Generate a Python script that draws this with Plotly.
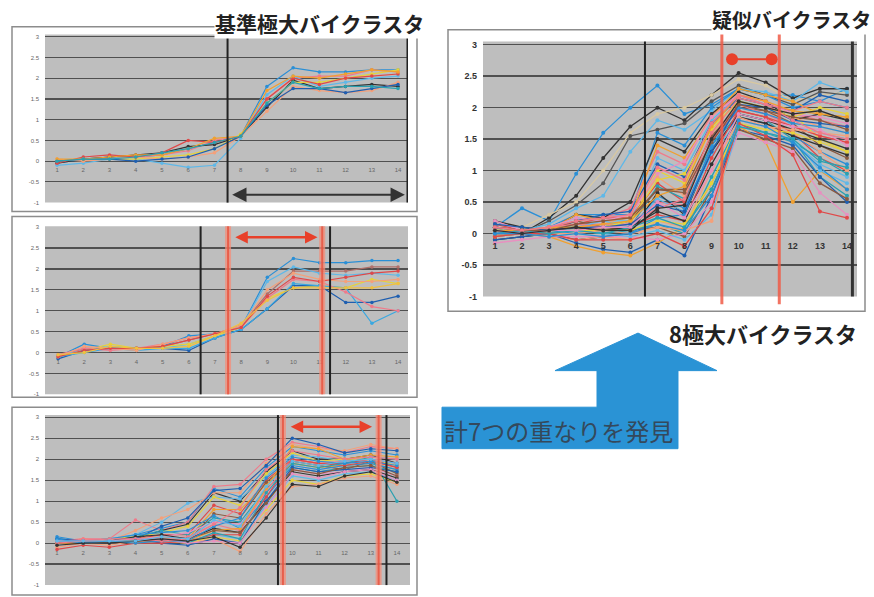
import plotly.graph_objects as go

W, H = 874, 597

X = list(range(1, 15))
XLAB = [str(i) for i in X]
YTICKS = [-1, -0.5, 0, 0.5, 1, 1.5, 2, 2.5, 3]
YLAB = ["-1", "-0.5", "0", "0.5", "1", "1.5", "2", "2.5", "3"]

TITLE_1 = "基準極大バイクラスタ"
TITLE_4 = "疑似バイクラスタ"
TITLE_8 = "8極大バイクラスタ"
ARROW_TEXT = "計7つの重なりを発見"

PALETTE = ["#2a8fd6", "#f07a8a", "#333333", "#5fb8e8", "#e6d23c", "#f4a07a",
           "#1f5fb0", "#e04848", "#f0a030", "#2aa0b0", "#8a5a40", "#e890c0"]

# Panel 1: reference maximal bicluster
P1 = [
    [-0.05, 0.05, 0.1, 0.1, 0.15, 0.3, 0.45, 0.6, 1.8, 2.25, 2.15, 2.15, 2.2, 2.2],
    [0, 0.05, 0.05, 0.1, 0.15, 0.25, 0.5, 0.6, 1.5, 2.0, 2.05, 2.05, 2.2, 2.15],
    [-0.05, 0.05, 0.1, 0.15, 0.2, 0.35, 0.4, 0.6, 1.3, 1.95, 1.75, 1.8, 1.85, 1.8],
    [-0.1, -0.05, 0.05, 0.05, -0.05, -0.15, -0.1, 0.55, 1.6, 2.05, 1.8, 1.9, 2.0, 2.05],
    [0, 0.05, 0.05, 0.05, 0.1, 0.15, 0.3, 0.65, 1.4, 1.9, 1.9, 2.0, 2.1, 2.2],
    [0.05, 0.0, 0.05, 0.1, 0.05, 0.1, 0.2, 0.6, 1.2, 1.8, 1.7, 1.65, 1.7, 1.9],
    [0, 0.05, 0.05, 0.0, 0.05, 0.1, 0.3, 0.6, 1.35, 1.75, 1.75, 1.65, 1.75, 1.85],
    [-0.05, 0.1, 0.15, 0.1, 0.2, 0.5, 0.45, 0.6, 1.5, 2.0, 1.85, 2.0, 2.05, 2.1],
    [0.05, 0.05, 0.1, 0.15, 0.15, 0.3, 0.55, 0.6, 1.7, 2.05, 2.0, 2.1, 2.2, 2.15],
    [0, 0.05, 0.05, 0.1, 0.2, 0.3, 0.45, 0.6, 1.4, 1.9, 1.75, 1.8, 1.8, 1.75],
]

# Panel 2
P2 = [
    [-0.1, 0.2, 0.1, 0.1, 0.15, 0.4, 0.45, 0.6, 1.8, 2.25, 2.15, 2.15, 2.2, 2.2],
    [-0.1, 0.1, 0.1, 0.1, 0.15, 0.3, 0.45, 0.65, 1.4, 1.95, 1.95, 1.95, 2.05, 2.05],
    [-0.05, 0.05, 0.15, 0.1, 0.1, 0.2, 0.4, 0.6, 1.7, 2.05, 1.9, 1.85, 1.9, 1.85],
    [-0.1, 0.05, 0.2, 0.1, 0.15, 0.2, 0.4, 0.6, 1.3, 1.55, 1.6, 1.55, 1.75, 1.65],
    [-0.15, 0.05, 0.1, 0.1, 0.1, 0.05, 0.35, 0.55, 1.05, 1.6, 1.6, 1.2, 1.2, 1.35],
    [-0.1, 0.0, 0.1, 0.05, 0.1, 0.1, 0.35, 0.55, 1.05, 1.65, 1.6, 1.55, 0.7, 1.0],
    [-0.05, 0.1, 0.05, 0.1, 0.2, 0.35, 0.45, 0.6, 1.3, 1.75, 1.7, 1.45, 1.1, 1.0],
    [-0.1, 0.15, 0.1, 0.05, 0.2, 0.35, 0.45, 0.65, 1.5, 1.9, 1.75, 1.7, 1.7, 1.75],
    [-0.1, 0.05, 0.1, 0.1, 0.15, 0.3, 0.45, 0.6, 1.35, 1.8, 1.7, 1.8, 1.9, 1.95],
    [-0.05, 0.0, 0.15, 0.1, 0.1, 0.15, 0.4, 0.7, 1.25, 1.55, 1.55, 1.55, 1.55, 1.65],
]
P2_COLORS = ["#2a8fd6", "#b0706a", "#5fb8e8", "#e6d23c", "#1f5fb0", "#3aa8e0",
             "#f07a8a", "#f4a07a", "#e04848", "#f0c040"]

# Panel 3
P3 = [
    [0.1, 0.05, 0.05, 0.2, 0.35, 0.5, 1.3, 1.1, 1.8, 2.3, 2.2, 2.1, 2.2, 2.1],
    [0.0, 0.1, 0.1, 0.55, 0.3, 0.5, 1.35, 1.4, 2.0, 2.4, 2.3, 2.15, 2.3, 2.25],
    [0.05, 0.0, 0.05, 0.1, 0.3, 0.45, 1.2, 1.0, 1.7, 2.2, 2.0, 2.0, 2.1, 1.9],
    [0.1, 0.05, 0.1, 0.2, 0.5, 0.95, 1.1, 1.05, 1.6, 2.1, 2.05, 1.95, 2.05, 2.0],
    [0.0, 0.05, 0.1, 0.15, 0.25, 0.4, 1.1, 0.9, 1.65, 2.15, 1.95, 2.0, 2.0, 1.85],
    [0.05, 0.1, 0.05, 0.3, 0.6, 0.8, 1.2, 1.2, 1.9, 2.35, 2.25, 2.2, 2.35, 2.25],
    [0.0, 0.05, 0.05, 0.1, 0.4, 0.6, 1.25, 1.3, 1.85, 2.5, 2.35, 2.15, 2.25, 2.2],
    [0.05, 0.0, 0.05, 0.1, 0.2, 0.2, 0.9, 0.7, 1.5, 2.0, 1.9, 1.9, 2.0, 1.8],
    [0.0, 0.05, 0.0, 0.1, 0.15, 0.1, 0.8, 0.8, 1.4, 1.9, 1.8, 1.85, 1.9, 1.75],
    [0.1, 0.05, 0.05, 0.15, 0.3, 0.2, 0.6, 0.5, 1.3, 1.8, 1.7, 1.8, 1.85, 1.7],
    [0.05, 0.05, 0.0, 0.05, 0.1, 0.05, 0.7, 0.6, 1.45, 1.95, 1.85, 1.75, 1.95, 1.65],
    [0.0, 0.0, 0.05, 0.1, 0.15, 0.25, 0.5, 0.45, 1.2, 1.75, 1.65, 1.7, 1.8, 1.6],
    [0.15, 0.05, 0.1, 0.2, 0.25, 0.3, 0.65, 0.35, 1.1, 1.85, 1.75, 1.85, 1.9, 1.75],
    [0.05, 0.1, 0.05, 0.05, 0.1, 0.15, 0.45, 0.3, 1.25, 2.0, 1.9, 1.95, 2.0, 1.9],
    [0.0, 0.0, 0.05, 0.15, 0.2, 0.1, 0.35, 0.25, 1.0, 1.7, 1.6, 1.7, 1.75, 1.55],
    [0.05, 0.0, 0.0, 0.05, 0.1, 0.05, 0.2, 0.1, 0.9, 1.6, 1.5, 1.65, 1.7, 1.5],
    [0.0, 0.05, 0.05, 0.0, 0.05, 0.0, 0.15, 0.05, 0.8, 1.5, 1.4, 1.6, 1.65, 1.45],
    [-0.1, 0.0, -0.05, 0.05, 0.05, 0.0, 0.1, -0.2, 0.7, 1.35, 1.4, 1.55, 1.6, 1.4],
    [0.1, 0.05, 0.0, 0.1, 0.0, -0.05, 0.1, 0.0, 1.0, 1.8, 1.7, 1.75, 1.8, 1.7],
    [-0.15, -0.05, -0.1, 0.0, 0.0, 0.05, 0.2, 0.2, 1.1, 2.0, 1.9, 1.85, 1.95, 1.8],
    [0.0, 0.0, 0.05, 0.05, 0.1, 0.05, 0.3, 0.35, 1.3, 2.3, 2.25, 2.0, 2.1, 2.05],
    [0.05, 0.0, 0.05, 0.1, 0.1, 0.0, 0.25, 0.1, 1.2, 1.9, 1.8, 1.9, 2.05, 1.0],
    [0.0, 0.05, 0.0, 0.05, 0.05, 0.1, 0.3, 0.25, 0.95, 1.75, 1.65, 1.8, 1.85, 1.6],
    [0.05, 0.05, 0.05, 0.1, 0.1, 0.0, 0.05, 0.0, 0.85, 1.65, 1.55, 1.7, 1.75, 1.5],
    [0.1, 0.0, 0.05, 0.0, 0.05, 0.05, 0.4, 0.6, 1.55, 2.05, 1.95, 1.9, 1.95, 1.85],
    [0.0, 0.05, 0.1, 0.1, 0.05, 0.1, 0.45, 0.85, 1.75, 2.2, 2.1, 2.0, 2.05, 2.0],
    [-0.05, 0.0, 0.0, 0.05, 0.1, 0.05, 0.15, -0.1, 0.6, 1.4, 1.35, 1.6, 1.7, 1.45],
    [0.05, 0.05, 0.05, 0.05, 0.15, 0.1, 0.55, 0.4, 1.35, 1.95, 1.85, 1.95, 2.0, 1.9],
]

# Panel 4: pseudo bicluster
P4 = [
    [0.1, 0.4, 0.2, 0.95, 1.6, 2.0, 2.35, 1.9, 2.05, 2.3, 2.2, 2.2, 2.1, 2.3],
    [0.1, 0.0, 0.25, 0.6, 1.2, 1.7, 2.0, 1.8, 2.2, 2.55, 2.4, 2.15, 2.3, 2.3],
    [0.2, 0.1, 0.3, 0.5, 1.0, 1.6, 1.9, 2.0, 2.2, 2.45, 2.35, 2.1, 2.2, 2.25],
    [0.05, 0.0, 0.2, 0.45, 0.8, 1.55, 1.65, 1.75, 2.1, 2.35, 2.2, 2.05, 2.25, 2.2],
    [0.0, 0.05, 0.15, 0.4, 0.6, 1.3, 1.8, 1.65, 1.95, 2.3, 2.25, 2.1, 2.4, 2.25],
    [0.05, 0.0, 0.1, 0.3, 0.3, 0.3, 1.6, 1.4, 2.0, 2.3, 2.2, 2.0, 2.1, 2.0],
    [0.1, 0.05, 0.1, 0.2, 0.25, 0.4, 1.3, 1.1, 1.9, 2.2, 2.1, 1.9, 1.8, 1.7],
    [0.2, 0.1, 0.05, 0.3, 0.25, 0.5, 1.5, 1.3, 1.9, 2.25, 2.1, 1.8, 1.9, 1.8],
    [0.0, 0.05, 0.1, 0.25, 0.2, 0.2, 1.2, 1.0, 1.8, 2.2, 2.05, 1.7, 1.6, 1.5],
    [0.05, 0.0, 0.05, 0.15, 0.1, 0.15, 1.0, 0.8, 1.7, 2.1, 2.0, 1.9, 1.5, 1.3],
    [0.1, 0.05, 0.0, 0.1, 0.15, 0.3, 0.9, 0.6, 1.6, 2.0, 1.9, 1.85, 1.7, 1.6],
    [-0.05, 0.0, 0.05, 0.2, 0.3, 0.35, 1.1, 0.9, 1.75, 2.15, 2.05, 1.95, 2.2, 2.1],
    [0.15, 0.05, 0.1, 0.15, 0.25, 0.25, 0.8, 0.5, 1.5, 1.95, 1.85, 1.6, 1.2, 1.0],
    [0.0, 0.0, 0.05, 0.3, 0.2, 0.25, 1.4, 1.2, 1.85, 2.3, 2.2, 2.1, 1.9, 1.85],
    [0.05, 0.05, 0.1, 0.1, 0.0, 0.1, 0.75, 0.55, 1.4, 1.9, 1.8, 1.5, 0.9, 0.6],
    [0.1, 0.0, 0.05, 0.2, 0.1, 0.2, 0.7, 0.7, 1.55, 2.0, 1.95, 1.75, 1.4, 1.2],
    [0.2, 0.05, 0.1, 0.25, 0.2, 0.3, 0.95, 1.15, 1.85, 2.2, 2.1, 1.9, 1.85, 1.75],
    [0.05, 0.0, 0.0, 0.1, 0.05, 0.05, 0.6, 0.4, 1.35, 1.85, 1.75, 1.55, 1.3, 1.1],
    [0.0, 0.05, 0.05, 0.15, 0.15, 0.15, 0.5, 0.45, 1.5, 2.05, 1.9, 1.7, 1.55, 1.45],
    [-0.1, -0.05, 0.0, -0.1, -0.05, 0.0, 0.65, 0.3, 1.3, 1.9, 1.8, 1.65, 1.5, 1.35],
    [0.1, 0.05, 0.1, 0.1, 0.2, 0.1, 0.55, 0.35, 1.25, 1.8, 1.7, 1.45, 1.1, 0.9],
    [0.05, 0.0, 0.05, 0.0, 0.1, 0.2, 0.85, 0.95, 1.65, 2.1, 2.0, 1.85, 2.0, 1.9],
    [0.0, 0.0, -0.05, -0.1, -0.05, -0.1, 0.2, 0.1, 1.0, 1.8, 1.7, 1.6, 1.3, 1.0],
    [-0.1, -0.05, 0.0, -0.15, -0.25, -0.3, -0.1, -0.35, 0.6, 1.65, 1.55, 1.4, 0.9, 0.5],
    [0.1, 0.05, 0.05, 0.1, 0.05, 0.1, 0.3, 0.2, 1.2, 1.95, 1.85, 1.7, 1.55, 1.45],
    [-0.05, 0.0, -0.05, -0.2, -0.3, -0.35, -0.15, 0.1, 0.8, 1.7, 1.45, 0.5, 1.0, 0.7],
    [0.05, 0.0, 0.05, 0.05, 0.0, 0.05, 0.15, 0.0, 0.9, 1.75, 1.6, 1.45, 1.2, 0.95],
    [0.1, 0.05, 0.0, 0.05, 0.1, 0.05, 0.1, -0.05, 0.7, 1.65, 1.5, 1.35, 0.8, 0.55],
    [-0.15, -0.1, -0.05, -0.05, -0.05, -0.05, -0.1, 0.0, 0.5, 1.6, 1.45, 1.3, 0.65, 0.3],
    [0.0, 0.05, 0.05, 0.0, 0.05, 0.0, 0.25, 0.3, 1.4, 2.0, 1.9, 1.75, 1.7, 1.6],
    [0.05, 0.0, 0.1, 0.15, 0.1, 0.15, 0.4, 0.55, 1.6, 2.15, 2.05, 1.95, 2.1, 2.0],
    [0.0, 0.0, 0.05, 0.1, 0.05, 0.1, 0.35, 0.2, 1.1, 1.85, 1.75, 1.55, 1.4, 1.25],
    [0.1, 0.0, 0.0, 0.05, 0.0, -0.05, 0.05, -0.1, 0.3, 1.7, 1.6, 1.5, 1.0, 0.8],
    [0.05, 0.05, 0.05, 0.05, 0.05, 0.05, 0.2, 0.15, 0.8, 1.75, 1.65, 1.6, 1.45, 1.3],
    [0.0, 0.0, 0.0, 0.0, 0.05, 0.0, 0.1, 0.05, 0.2, 1.85, 1.7, 1.65, 1.6, 1.55],
    [0.15, 0.1, 0.05, 0.1, 0.1, 0.15, 0.45, 0.35, 1.3, 2.05, 2.0, 1.8, 1.75, 1.7],
    [-0.05, 0.0, 0.0, -0.1, -0.1, -0.1, 0.0, -0.2, 0.4, 1.75, 1.55, 1.25, 0.35, 0.25],
    [0.05, 0.05, 0.1, 0.1, 0.15, 0.2, 0.6, 0.75, 1.7, 2.2, 2.1, 1.95, 1.9, 1.85],
    [0.0, 0.05, 0.0, 0.05, 0.0, 0.1, 0.25, 0.1, 0.7, 1.7, 1.6, 1.5, 1.15, 1.05],
    [0.1, 0.05, 0.05, 0.15, 0.2, 0.25, 0.7, 0.65, 1.45, 2.05, 1.95, 1.85, 1.8, 1.65],
    [0.05, 0.0, 0.05, 0.05, 0.1, 0.1, 0.5, 0.25, 1.0, 1.9, 1.8, 1.7, 1.65, 1.4],
    [0.0, 0.0, -0.05, 0.0, -0.05, 0.0, 0.15, 0.05, 0.6, 1.8, 1.7, 1.45, 1.05, 0.7],
    [0.1, 0.05, 0.1, 0.2, 0.25, 0.3, 1.05, 0.85, 1.75, 2.2, 2.05, 1.8, 1.6, 1.5],
    [0.05, 0.0, 0.05, 0.1, 0.05, 0.05, 0.4, 0.45, 1.5, 2.1, 2.0, 1.9, 1.95, 1.8],
]
P4_FIRST_COLORS = ["#2a8fd6", "#333333", "#d8c8a0", "#555555", "#5fb8e8"]


def fx(p):
    return p / W


def fy(p):
    return 1 - p / H


# panel geometry (pixel boxes of the gray plot areas)
PANELS = [
    dict(data=P1, colors=PALETTE, box=(45, 408, 33, 203), xr=[0.54, 14.38], yr=[-1, 3.05],
         zero=161, fs=6, lw=1.2, ms=3.5),
    dict(data=P2, colors=P2_COLORS, box=(45, 408, 227, 397), xr=[0.50, 14.38], yr=[-1, 3.02],
         zero=355, fs=6, lw=1.2, ms=3.5),
    dict(data=P3, colors=PALETTE, box=(45, 410, 418, 590), xr=[0.54, 14.5], yr=[-1, 3.05],
         zero=548, fs=6, lw=1.1, ms=3.5),
    dict(data=P4, colors=P4_FIRST_COLORS + PALETTE * 4, box=(483, 857, 40, 298),
         xr=[0.56, 14.37], yr=[-1, 3.05], zero=234, fs=9, lw=1.3, ms=4),
]

fig = go.Figure()
layout = {}
for i, pn in enumerate(PANELS):
    k = "" if i == 0 else str(i + 1)
    x0, x1, y0, y1 = pn["box"]
    for j, series in enumerate(pn["data"]):
        c = pn["colors"][j % len(pn["colors"])]
        fig.add_trace(go.Scatter(
            x=X, y=series, xaxis="x" + k, yaxis="y" + k, mode="lines+markers",
            line=dict(color=c, width=pn["lw"]), marker=dict(color=c, size=pn["ms"]),
            showlegend=False, hoverinfo="skip"))
    big = i == 3
    layout["xaxis" + k] = dict(
        domain=[fx(x0), fx(x1)], range=pn["xr"], anchor="free", position=fy(pn["zero"]),
        tickvals=X, ticktext=XLAB, showgrid=False, zeroline=False, showline=False,
        ticks="", ticklabelstandoff=6 if big else 4,
        tickfont=dict(family="Liberation Sans", size=pn["fs"], color="#333" if big else "#666",
                      weight=700 if big else 400),
        fixedrange=True)
    layout["yaxis" + k] = dict(
        domain=[fy(y1), fy(y0)], range=pn["yr"], anchor="x" + k,
        tickvals=YTICKS, ticktext=YLAB, showgrid=True, gridcolor="#505050",
        gridwidth=1.4 if big else 1.2, zeroline=False, showline=False, ticks="",
        ticklabelstandoff=5,
        tickfont=dict(family="Liberation Sans", size=pn["fs"], color="#333" if big else "#666",
                      weight=700 if big else 400),
        fixedrange=True)

shapes = []
annotations = []

# panel frames
for (l, r, t, b) in [(12, 417, 25, 212), (12, 417, 217, 400), (12, 417, 410, 600), (448, 865, 28, 313)]:
    shapes.append(dict(type="rect", xref="paper", yref="paper", x0=fx(l), x1=fx(r), y0=fy(b), y1=fy(t),
                       line=dict(color="#8c8c8c", width=1.5), layer="below"))
# gray plot backgrounds
for pn in PANELS:
    x0, x1, y0, y1 = pn["box"]
    shapes.append(dict(type="rect", xref="paper", yref="paper", x0=fx(x0), x1=fx(x1), y0=fy(y1), y1=fy(y0),
                       fillcolor="#bebebe", line=dict(width=0), layer="below"))


def vline(k, xv, color, width, y0=0, y1=1):
    shapes.append(dict(type="line", xref="x" + k, yref="y" + k + " domain", x0=xv, x1=xv, y0=y0, y1=y1,
                       line=dict(color=color, width=width), layer="above"))


def red_band(k, xv, big=False):
    if big:
        vline(k, xv, "rgba(240,90,70,0.85)", 3, -0.03, 1.03)
    else:
        vline(k, xv, "rgba(245,140,120,0.75)", 6, 0, 1)
        vline(k, xv, "rgba(230,80,60,0.8)", 2, 0, 1)


def harrow(k, xa, xb, yv, color, width, head, size):
    annotations.append(dict(x=xb, y=yv, ax=xa, ay=yv, xref="x" + k, yref="y" + k, axref="x" + k,
                            ayref="y" + k, text="", showarrow=True, arrowhead=head, startarrowhead=head,
                            arrowside="end+start", arrowwidth=width, arrowsize=size, arrowcolor=color,
                            startarrowsize=size))


# panel 1
vline("", 7.5, "#222", 2)
vline("", 14.36, "#222", 2)
harrow("", 7.62, 14.26, -0.81, "#333", 2.2, 2, 1.3)
# panel 2
vline("2", 6.45, "#222", 2)
vline("2", 11.4, "#222", 2)
red_band("2", 7.5)
red_band("2", 11.1)
harrow("2", 7.72, 10.92, 2.76, "#e8402a", 2.5, 2, 1.0)
# panel 3
vline("3", 9.45, "#222", 2)
vline("3", 13.6, "#222", 2)
red_band("3", 9.64)
red_band("3", 13.3)
harrow("3", 9.88, 13.05, 2.77, "#e8402a", 2.5, 2, 1.0)
# panel 4
vline("4", 6.54, "#222", 2)
vline("4", 14.2, "#333", 3)
red_band("4", 9.38, True)
red_band("4", 11.5, True)
harrow("4", 9.7, 11.22, 2.77, "#e8402a", 2, 6, 1.5)

# blue arrow
pts = [(442, 410), (597, 410), (597, 373), (555, 373), (638, 335), (717, 373), (678, 373), (678, 452), (442, 452)]
path = "M " + " L ".join(f"{fx(a):.5f},{fy(b):.5f}" for a, b in pts) + " Z"
shapes.append(dict(type="path", xref="paper", yref="paper", path=path, fillcolor="#2a93d5",
                   line=dict(color="#2a93d5", width=1), layer="above"))

CJK = "Noto Sans CJK JP"
annotations += [
    dict(x=fx(319), y=fy(21), xref="paper", yref="paper", text=TITLE_1, showarrow=False,
         xanchor="center", yanchor="middle",
         font=dict(family=CJK, size=21, color="#222", weight=700), bgcolor="white", borderpad=0),
    dict(x=fx(791), y=fy(18), xref="paper", yref="paper", text=TITLE_4, showarrow=False,
         xanchor="center", yanchor="middle",
         font=dict(family=CJK, size=20, color="#222", weight=700), bgcolor="white", borderpad=0),
    dict(x=fx(763), y=fy(335), xref="paper", yref="paper", text=TITLE_8, showarrow=False,
         xanchor="center", yanchor="middle",
         font=dict(family=CJK, size=22, color="#222", weight=700)),
    dict(x=fx(558), y=fy(434), xref="paper", yref="paper", text=ARROW_TEXT, showarrow=False,
         xanchor="center", yanchor="middle",
         font=dict(family=CJK, size=24, color="#34495c")),
]

fig.update_layout(
    width=W, height=H, margin=dict(l=0, r=0, t=0, b=0), paper_bgcolor="white",
    plot_bgcolor="rgba(0,0,0,0)", shapes=shapes, annotations=annotations, **layout)

fig.write_html("out.html", config={"displayModeBar": False, "staticPlot": True},
               post_script="document.body.style.margin='0';")
